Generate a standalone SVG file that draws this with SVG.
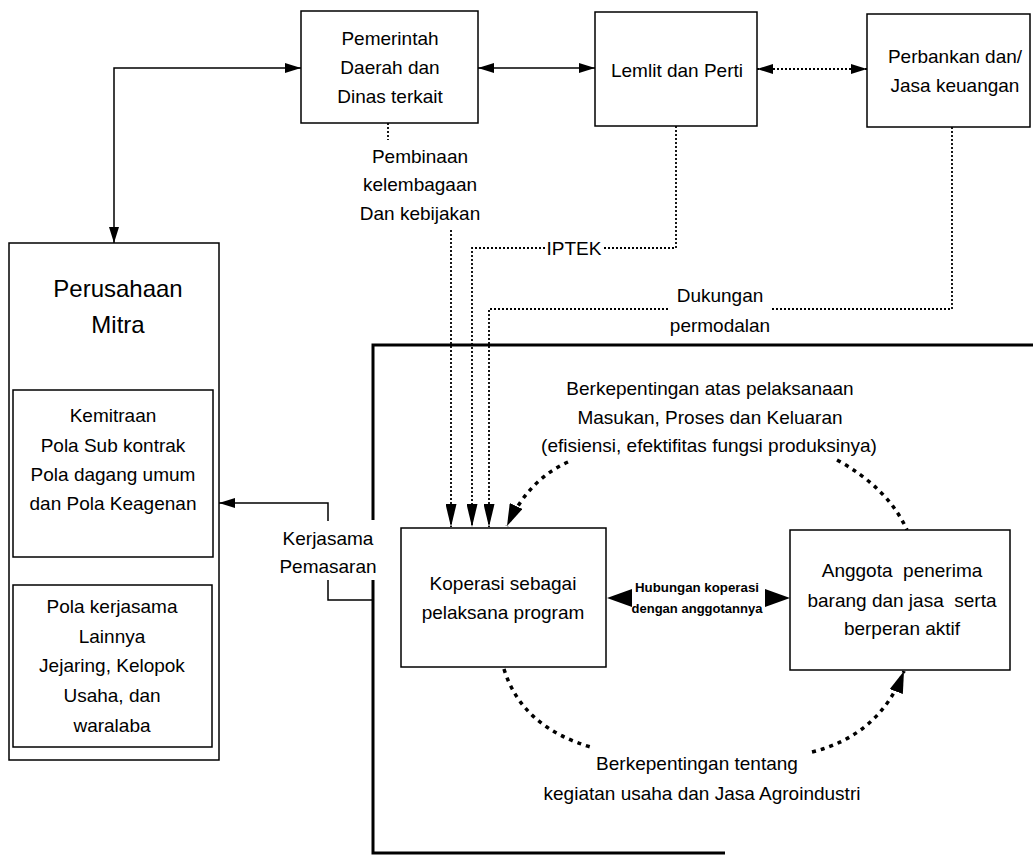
<svg xmlns="http://www.w3.org/2000/svg" width="1033" height="857" viewBox="0 0 1033 857">
<defs>
  <marker id="ah" markerUnits="userSpaceOnUse" markerWidth="16" markerHeight="10" refX="16" refY="5" orient="auto-start-reverse">
    <path d="M0,0 L16,5 L0,10 z" fill="#000"/>
  </marker>
  <marker id="ahLong" markerUnits="userSpaceOnUse" markerWidth="23" markerHeight="11" refX="23" refY="5.5" orient="auto">
    <path d="M0,0 L23,5.5 L0,11 z" fill="#000"/>
  </marker>
  <marker id="ahCurve" markerUnits="userSpaceOnUse" markerWidth="22" markerHeight="14" refX="22" refY="7" orient="auto">
    <path d="M0,0 L22,7 L0,14 z" fill="#000"/>
  </marker>
</defs>
<style>
  text { font-family: "Liberation Sans", Arial, sans-serif; font-size: 19px; fill: #000; text-anchor: middle; }
  .big { font-size: 24px; }
  .small { font-size: 13px; font-weight: bold; }
  .box { fill: #fff; stroke: #000; stroke-width: 1.5; }
  .solid { fill: none; stroke: #000; stroke-width: 1.5; }
  .dot { fill: none; stroke: #000; stroke-width: 1.8; stroke-dasharray: 2 2; }
  .curve { fill: none; stroke: #000; stroke-width: 3.5; stroke-dasharray: 4 5; }
  .frame { fill: none; stroke: #000; stroke-width: 3; }
</style>
<rect width="1033" height="857" fill="#fff"/>

<g id="program-frame">
  <path class="frame" d="M1033,345 H373 V520"/>
  <path class="frame" d="M373,580 V853 H725"/>
</g>

<g id="connectors">
  <path class="solid" d="M114,243 V68 H301" marker-start="url(#ah)" marker-end="url(#ah)"/>
  <path class="solid" d="M478,68 H595" marker-start="url(#ah)" marker-end="url(#ah)"/>
  <path class="dot" d="M757,69 H867" marker-start="url(#ah)" marker-end="url(#ah)"/>
  <path class="dot" d="M388,123 V140"/>
  <path class="dot" d="M451,230 V527" marker-end="url(#ahLong)"/>
  <path class="dot" d="M676,126 V248 H604"/>
  <path class="dot" d="M545,248 H472 V527" marker-end="url(#ahLong)"/>
  <path class="dot" d="M952,127 V309 H772"/>
  <path class="dot" d="M668,309 H489 V527" marker-end="url(#ahLong)"/>
  <path class="solid" d="M328,521 V503 H219" marker-end="url(#ah)"/>
  <path class="solid" d="M328,580 V600 H373"/>
  <polygon points="607,598 632,589 632,607" fill="#000"/>
  <polygon points="790,598 765,589 765,607" fill="#000"/>
  <path class="curve" d="M568,462 Q528,480 507,526" marker-end="url(#ahCurve)"/>
  <path class="curve" d="M837,460 Q888,488 907,530"/>
  <path class="curve" d="M504,669 Q522,728 594,748"/>
  <path class="curve" d="M812,752 Q880,735 904,671" marker-end="url(#ahCurve)"/>

  <text x="420" y="163">Pembinaan</text>
  <text x="420" y="191">kelembagaan</text>
  <text x="420" y="220">Dan kebijakan</text>
  <text x="574" y="255">IPTEK</text>
  <text x="720" y="302">Dukungan</text>
  <text x="720" y="332">permodalan</text>
  <text x="328" y="545">Kerjasama</text>
  <text x="328" y="573">Pemasaran</text>
  <text class="small" x="697" y="592" textLength="124" lengthAdjust="spacingAndGlyphs">Hubungan koperasi</text>
  <text class="small" x="697" y="613" textLength="131" lengthAdjust="spacingAndGlyphs">dengan anggotannya</text>
  <text x="710" y="395">Berkepentingan atas pelaksanaan</text>
  <text x="710" y="424">Masukan, Proses dan Keluaran</text>
  <text x="709" y="452">(efisiensi, efektifitas fungsi produksinya)</text>
  <text x="697" y="770">Berkepentingan tentang</text>
  <text x="702" y="800">kegiatan usaha dan Jasa Agroindustri</text>
</g>

<g id="pemerintah">
  <rect class="box" x="301" y="11" width="177" height="112"/>
  <text x="390" y="45">Pemerintah</text>
  <text x="390" y="74">Daerah dan</text>
  <text x="390" y="103">Dinas terkait</text>
</g>

<g id="lemlit">
  <rect class="box" x="595" y="12" width="162" height="114"/>
  <text x="677" y="77">Lemlit dan Perti</text>
</g>

<g id="perbankan">
  <rect class="box" x="867" y="14" width="163" height="113"/>
  <text x="955" y="63">Perbankan dan/</text>
  <text x="955" y="92">Jasa keuangan</text>
</g>

<g id="perusahaan-mitra">
  <rect class="box" x="9" y="243" width="210" height="517"/>
  <text class="big" x="118" y="297">Perusahaan</text>
  <text class="big" x="118" y="333">Mitra</text>
</g>

<g id="kemitraan">
  <rect class="box" x="13" y="390" width="200" height="167"/>
  <text x="113" y="422">Kemitraan</text>
  <text x="113" y="452">Pola Sub kontrak</text>
  <text x="113" y="481">Pola dagang umum</text>
  <text x="113" y="510">dan Pola Keagenan</text>
</g>

<g id="pola-lainnya">
  <rect class="box" x="13" y="585" width="199" height="162"/>
  <text x="112" y="613">Pola kerjasama</text>
  <text x="112" y="643">Lainnya</text>
  <text x="112" y="672">Jejaring, Kelopok</text>
  <text x="112" y="702">Usaha, dan</text>
  <text x="112" y="732">waralaba</text>
</g>

<g id="koperasi">
  <rect class="box" x="401" y="528" width="205" height="139"/>
  <text x="503" y="590">Koperasi sebagai</text>
  <text x="503" y="619">pelaksana program</text>
</g>

<g id="anggota">
  <rect class="box" x="790" y="530" width="220" height="140"/>
  <text x="902" y="577" xml:space="preserve">Anggota  penerima</text>
  <text x="902" y="607" xml:space="preserve">barang dan jasa  serta</text>
  <text x="902" y="635">berperan aktif</text>
</g>
</svg>
